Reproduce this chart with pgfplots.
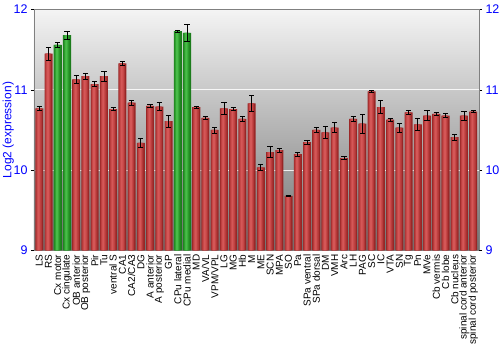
\documentclass[border=0pt]{standalone}
\usepackage{pgfplots}
\pgfplotsset{compat=1.18}
\usepackage{pgfplotstable}
\usepackage{fontspec}
\setmainfont{Liberation Sans}
\definecolor{redA}{HTML}{982626}
\definecolor{redB}{HTML}{B23838}
\definecolor{redC}{HTML}{C64747}
\definecolor{redD}{HTML}{D45757}
\definecolor{grnA}{HTML}{1C7C1C}
\definecolor{grnB}{HTML}{289428}
\definecolor{grnC}{HTML}{36A836}
\definecolor{grnD}{HTML}{48BC48}
\definecolor{bgtop}{HTML}{F4F4F4}
\definecolor{bgbot}{HTML}{727272}
\definecolor{tickblue}{HTML}{0000FF}

\pgfplotstableread{
x y err
0 10.77 0.02
1 11.45 0.08
4 11.13 0.05
5 11.17 0.04
6 11.07 0.03
7 11.17 0.06
8 10.76 0.02
9 11.33 0.03
10 10.84 0.03
11 10.34 0.056
12 10.80 0.02
13 10.79 0.05
14 10.61 0.075
17 10.785 0.01
18 10.65 0.023
19 10.50 0.037
20 10.77 0.07
21 10.76 0.017
22 10.64 0.03
23 10.83 0.095
24 10.035 0.037
25 10.225 0.07
26 10.25 0.027
27 9.68 0.01
28 10.20 0.027
29 10.35 0.025
30 10.50 0.03
31 10.47 0.07
32 10.53 0.06
33 10.15 0.017
34 10.64 0.03
35 10.58 0.118
36 10.98 0.015
37 10.785 0.08
38 10.63 0.017
39 10.53 0.058
40 10.72 0.023
41 10.57 0.073
42 10.68 0.066
43 10.70 0.02
44 10.68 0.025
45 10.41 0.035
46 10.68 0.056
47 10.73 0.01
}\redtable

\pgfplotstableread{
x y err
2 11.56 0.03
3 11.68 0.05
15 11.73 0.015
16 11.71 0.11
}\greentable

\pgfplotsset{myerr/.style={error bars/.cd, y dir=both, y explicit,
    error bar style={black, line width=0.8pt},
    error mark options={rotate=90, mark size=2.6pt, black, line width=0.8pt}}}

\begin{document}
\begin{tikzpicture}
\begin{axis}[
  scale only axis, width=445pt, height=241pt,
  xmin=-0.574, xmax=47.63, ymin=9, ymax=12,
  ybar, bar width=0.87, bar shift=0pt,
  axis background/.style={top color=bgtop, bottom color=bgbot},
  axis line style={draw=gray},
  ymajorgrids, grid style={white, line width=1.2pt, opacity=0.85},
  ytick={9,10,11,12}, ytick pos=left,
  tick align=outside, major tick length=3pt,
  ytick style={black, line width=0.6pt},
  xtick={0,...,47}, xtick style={draw=none},
  xticklabels={LS,RS,Cx motor,Cx cingulate,OB anterior,OB posterior,Pir,Tu,ventral S,CA1,CA2/CA3,DG,A anterior,A posterior,GP,CPu lateral,CPu medial,MD,VA/VL,VPM/VPL,LG,MG,Hb,M,ME,SCN,MPA,SO,Pa,SPa ventral,SPa dorsal,DM,VMH,Arc,LH,PAG,SC,IC,VTA,SN,Tg,Pn,MVe,Cb vermis,Cb lobe,Cb nucleus,spinal cord anterior,spinal cord posterior},
  xticklabel style={rotate=90, anchor=east, font=\fontsize{10}{10}\selectfont, inner sep=1pt},
  yticklabel style={text=tickblue, font=\fontsize{12.5}{12.5}\selectfont},
  /pgf/number format/assume math mode=true,
  ylabel={Log2 (expression)},
  every axis y label/.style={at={(axis description cs:-0.058,0.5)}, rotate=90, anchor=center, text=tickblue, font=\fontsize{12}{12}\selectfont},
]
% red bars, layered for a cylindrical shading
\addplot[draw=none, fill=redA, bar width=0.87, bar shift=0pt] table[x=x, y=y]{\redtable};
\addplot[draw=none, fill=redB, bar width=0.64, bar shift=-0.04] table[x=x, y=y]{\redtable};
\addplot[draw=none, fill=redC, bar width=0.42, bar shift=-0.06] table[x=x, y=y]{\redtable};
\addplot[draw=none, fill=redD, bar width=0.2, bar shift=-0.07] table[x=x, y=y]{\redtable};
% green bars
\addplot[draw=none, fill=grnA, bar width=0.87, bar shift=0pt] table[x=x, y=y]{\greentable};
\addplot[draw=none, fill=grnB, bar width=0.64, bar shift=-0.04] table[x=x, y=y]{\greentable};
\addplot[draw=none, fill=grnC, bar width=0.42, bar shift=-0.06] table[x=x, y=y]{\greentable};
\addplot[draw=none, fill=grnD, bar width=0.2, bar shift=-0.07] table[x=x, y=y]{\greentable};
% error bars
\addplot[draw=none, fill=none, bar shift=0pt, myerr] table[x=x, y=y, y error=err]{\redtable};
\addplot[draw=none, fill=none, bar shift=0pt, myerr] table[x=x, y=y, y error=err]{\greentable};
\end{axis}
\begin{axis}[
  scale only axis, width=445pt, height=241pt,
  xmin=-0.574, xmax=47.63, ymin=9, ymax=12,
  axis x line=none, axis y line*=right,
  axis line style={draw=gray},
  ytick={9,10,11,12},
  tick align=outside, major tick length=3pt,
  ytick style={black, line width=0.6pt},
  yticklabel style={text=tickblue, font=\fontsize{12.5}{12.5}\selectfont},
  /pgf/number format/assume math mode=true,
]
\addplot[draw=none] coordinates {(0,9)};
\end{axis}
\pgfresetboundingbox
\useasboundingbox (-34pt,-99.5pt) rectangle (466pt,250.5pt);
\end{tikzpicture}
\end{document}
